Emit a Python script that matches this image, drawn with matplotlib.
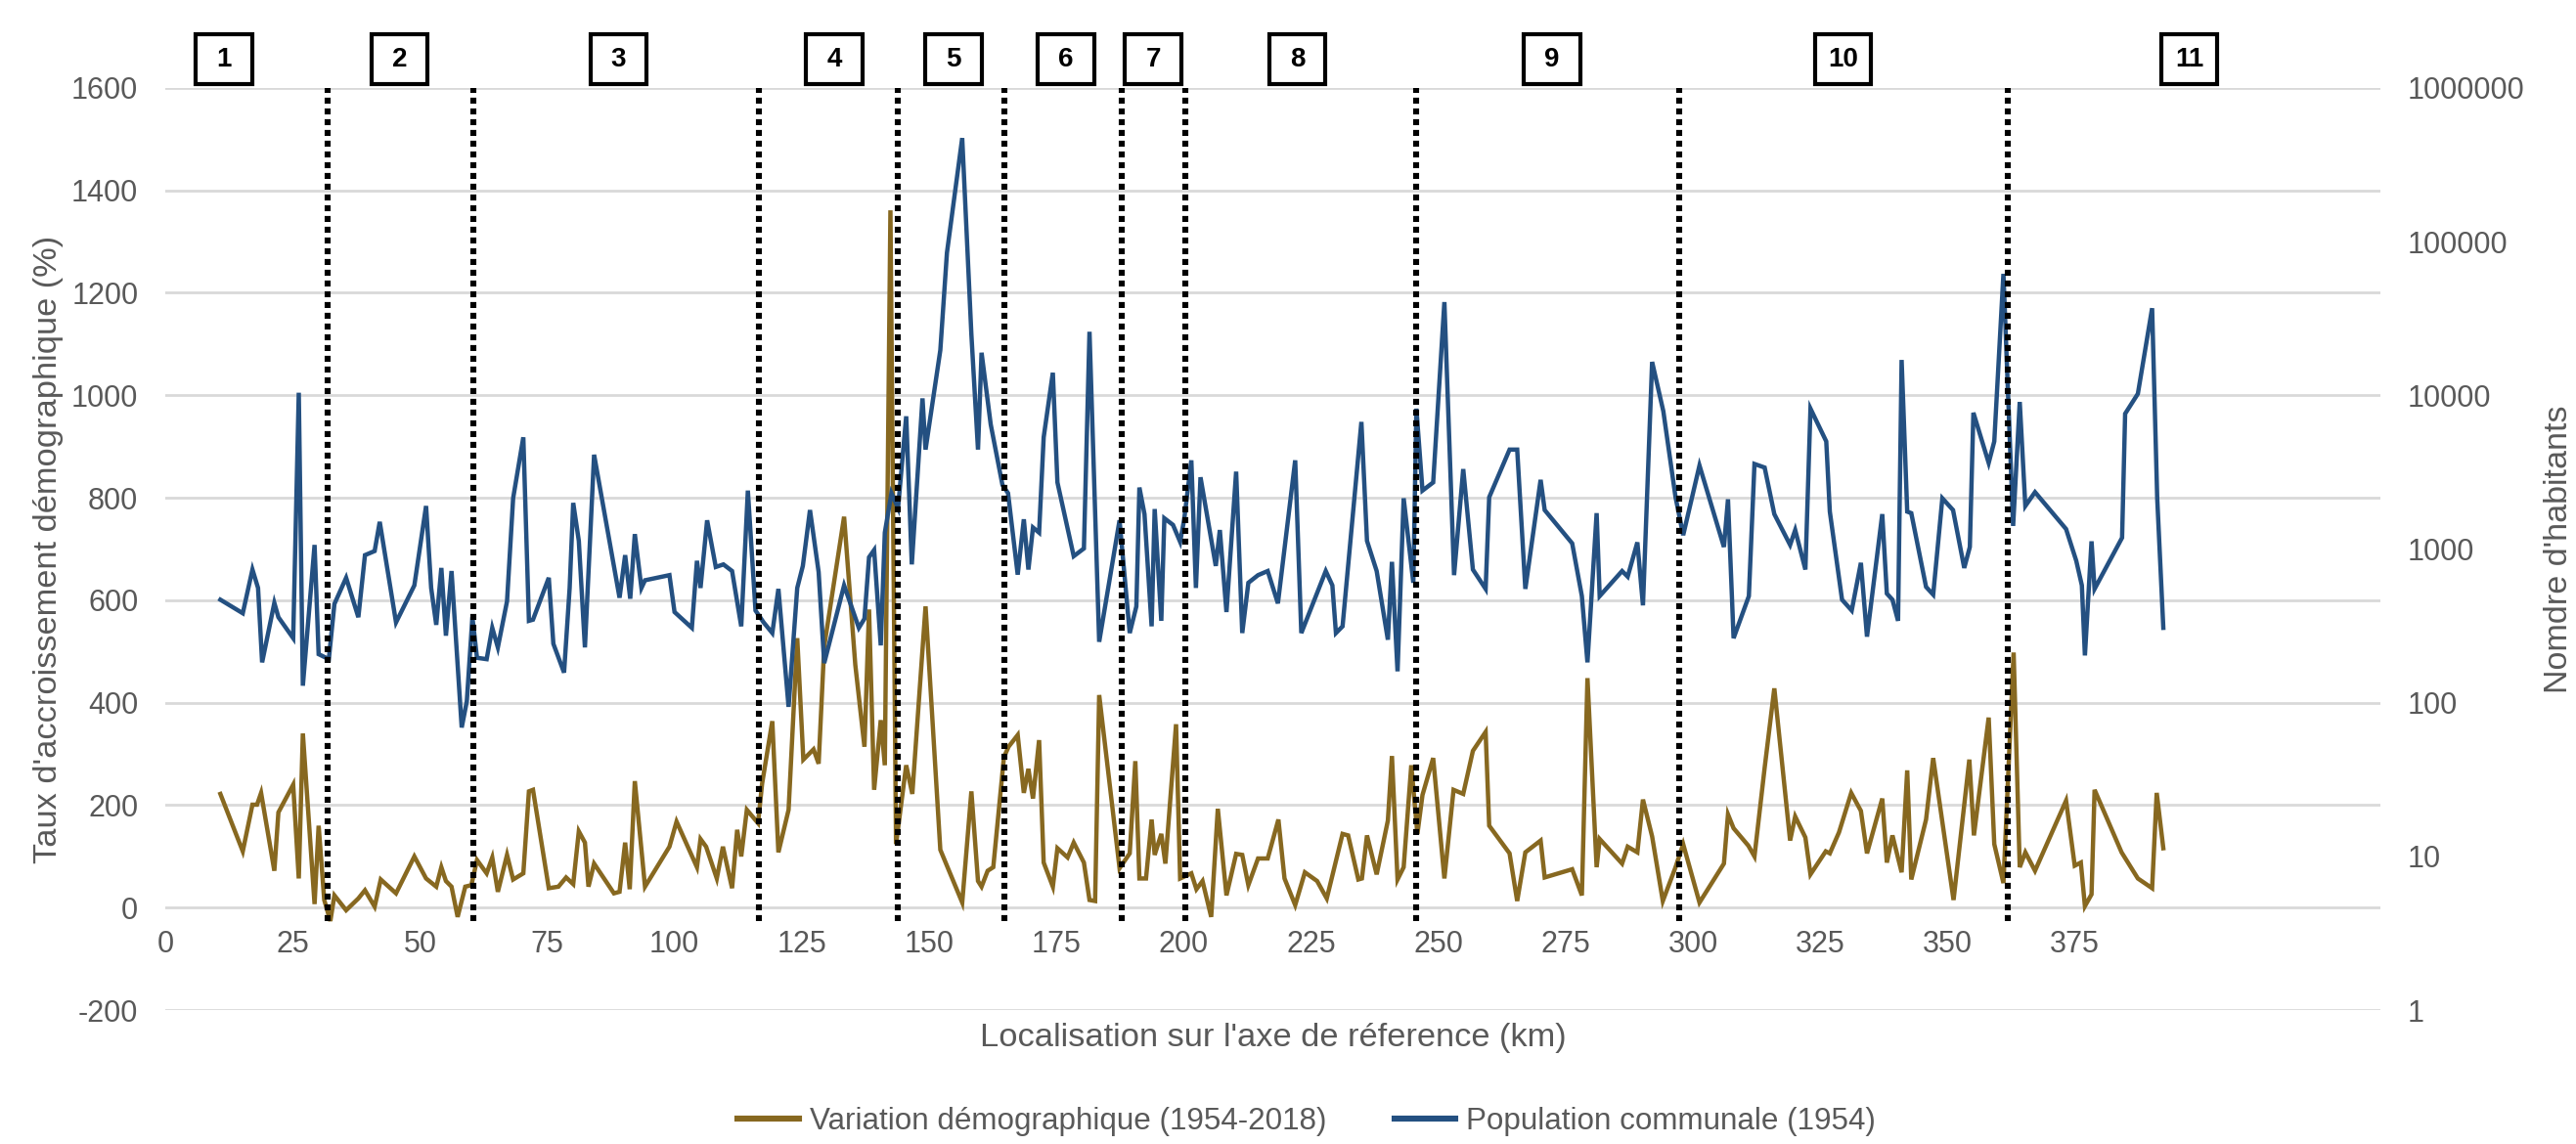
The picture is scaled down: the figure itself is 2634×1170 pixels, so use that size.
"""Variation démographique et population communale le long de l'axe de référence."""

import matplotlib
matplotlib.use("Agg")
import matplotlib.pyplot as plt
from matplotlib.lines import Line2D
from matplotlib.patches import Rectangle
from matplotlib.ticker import NullLocator

plt.rcParams["font.family"] = ["Liberation Sans", "DejaVu Sans"]
plt.rcParams["axes.unicode_minus"] = False

# --- variation démographique 1954-2018 (%), axe de gauche
var_km = [
    10.8, 15.2, 17.1, 18.0, 18.8, 21.4, 22.2, 25.1, 26.2, 27.0, 29.3, 30.1, 31.2, 32.4, 33.2,
    35.5, 37.9, 39.2, 41.1, 42.3, 45.3, 48.9, 51.2, 53.2, 54.2, 55.1, 56.2, 57.4, 58.9, 60.1,
    61.2, 63.1, 64.2, 65.3, 67.1, 68.3, 70.3, 71.4, 72.2, 75.3, 77.2, 78.7, 80.1, 81.2, 82.4,
    83.1, 84.2, 88.1, 89.2, 90.3, 91.2, 92.2, 94.2, 99.0, 100.4, 104.4, 105.1, 106.2, 108.3,
    109.5, 111.3, 112.3, 113.1, 114.2, 116.4, 117.2, 119.2, 120.4, 122.4, 124.1, 125.3, 127.3,
    128.3, 129.4, 133.3, 135.5, 137.3, 138.2, 139.2, 140.5, 141.3, 142.4, 143.5, 145.5, 146.7,
    149.3, 152.2, 156.5, 158.3, 159.6, 160.3, 161.5, 162.6, 164.7, 165.6, 167.4, 168.6, 169.5,
    170.4, 171.6, 172.5, 174.3, 175.2, 177.2, 178.4, 180.4, 181.5, 182.6, 183.4, 187.4, 189.4,
    190.5, 191.3, 192.6, 193.7, 194.3, 195.6, 196.4, 198.5, 199.3, 201.5, 202.5, 203.7, 205.4,
    206.7, 208.4, 210.3, 211.5, 212.7, 214.6, 216.5, 218.6, 219.8, 221.9, 223.8, 226.2, 228.1,
    231.2, 232.3, 234.3, 235.0, 236.0, 237.9, 240.1, 240.9, 242.0, 243.2, 244.7, 245.9, 246.9,
    249.0, 251.2, 253.0, 254.9, 256.8, 259.3, 260.0, 264.0, 265.5, 267.1, 270.1, 270.9, 276.3,
    278.2, 279.3, 281.1, 281.7, 286.1, 287.2, 289.1, 290.2, 292.0, 294.1, 296.6, 298.1, 301.3,
    306.1, 306.9, 308.0, 310.9, 312.1, 314.1, 316.0, 319.1, 320.1, 322.1, 323.1, 326.1, 326.9,
    328.7, 331.1, 333.0, 334.2, 337.2, 338.1, 339.2, 341.0, 342.1, 342.9, 345.8, 347.2, 351.2,
    354.3, 355.2, 358.1, 359.2, 361.0, 363.0, 364.2, 365.3, 367.2, 373.3, 375.0, 376.2, 377.0,
    378.3, 378.9, 384.2, 387.4, 390.2, 391.1, 392.4,
]
var_pct = [
    222, 110, 201, 201, 224, 72, 186, 240, 57, 340, 7, 160, 15, -26, 24,
    -5, 18, 34, 2, 55, 28, 100, 57, 41, 79, 52, 41, -18, 41, 44,
    93, 67, 98, 31, 103, 55, 67, 227, 230, 38, 41, 59, 46, 149, 127,
    41, 86, 28, 31, 127, 36, 247, 41, 119, 168, 79, 134, 119, 57,
    119, 38, 152, 100, 191, 165, 242, 364, 108, 191, 526, 289, 309,
    281, 510, 763, 474, 314, 582, 230, 366, 278, 1361, 124, 278, 222,
    588, 113, 10, 227, 52, 41, 72, 79, 294, 314, 337, 224, 271,
    213, 327, 88, 41, 116, 98, 127, 88, 15, 13, 415, 77, 106,
    286, 57, 57, 172, 103, 144, 86, 358, 57, 67, 36, 52, -18,
    193, 24, 105, 103, 44, 96, 96, 172, 57, 5, 69, 52, 18,
    144, 141, 55, 57, 141, 65, 170, 296, 55, 79, 278, 144, 220,
    292, 57, 230, 222, 306, 343, 160, 106, 13, 108, 131, 59, 75,
    24, 448, 79, 134, 86, 119, 108, 211, 139, 13, 79, 124, 10,
    86, 182, 155, 121, 100, 273, 428, 131, 178, 137, 65, 110, 106,
    147, 224, 189, 106, 213, 88, 141, 69, 268, 55, 172, 292, 15,
    289, 141, 371, 124, 48, 498, 79, 108, 72, 209, 82, 88, 3,
    26, 230, 108, 57, 38, 224, 116,
]

# --- population communale 1954 (habitants), axe de droite (log)
pop_km = [
    10.8, 15.2, 17.1, 18.2, 19.0, 21.4, 22.2, 25.1, 26.2, 27.0, 29.3, 30.1, 32.1, 33.2, 35.5,
    37.9, 39.2, 41.1, 42.1, 45.3, 48.9, 51.2, 52.2, 53.2, 54.2, 55.1, 56.2, 58.2, 59.2, 60.3,
    61.2, 63.1, 64.2, 65.3, 67.1, 68.3, 70.3, 71.4, 72.2, 75.3, 76.2, 78.3, 79.4, 80.1, 81.2,
    82.4, 84.2, 89.2, 90.3, 91.3, 92.2, 93.5, 94.2, 99.0, 100.0, 103.4, 104.4, 105.1, 106.4,
    108.1, 109.6, 111.3, 113.1, 114.4, 115.9, 117.5, 119.2, 120.4, 122.4, 124.1, 125.2, 126.6,
    128.3, 129.4, 133.3, 136.2, 137.3, 138.2, 139.2, 140.5, 141.3, 142.6, 143.9, 145.5, 146.6,
    148.7, 149.3, 152.2, 153.5, 156.5, 158.3, 159.6, 160.3, 162.1, 164.4, 165.5, 167.4, 168.6,
    169.5, 170.4, 171.6, 172.5, 174.3, 175.2, 178.4, 180.4, 181.5, 183.4, 187.4, 189.4, 190.7,
    191.3, 192.3, 193.7, 194.3, 195.6, 196.2, 197.9, 199.3, 200.1, 201.5, 202.4, 203.3, 206.3,
    207.1, 208.4, 210.3, 211.5, 212.7, 214.6, 216.5, 218.5, 221.9, 223.1, 227.9, 229.2, 229.9,
    231.2, 234.9, 236.0, 237.9, 240.1, 240.9, 242.0, 243.2, 245.1, 245.7, 246.9, 249.0, 251.2,
    253.1, 254.9, 256.8, 259.3, 260.0, 264.0, 265.5, 267.1, 270.1, 270.9, 276.3, 278.2, 279.3,
    281.1, 281.7, 286.1, 287.2, 289.1, 290.2, 292.0, 294.2, 296.6, 298.1, 301.3, 306.1, 306.9,
    308.0, 311.0, 312.1, 314.1, 316.0, 319.1, 320.1, 322.1, 323.1, 326.2, 326.9, 329.3, 331.2,
    333.0, 334.2, 337.2, 338.1, 339.2, 340.3, 341.0, 342.1, 342.9, 345.8, 347.2, 349.0, 351.1,
    353.3, 354.4, 355.1, 358.1, 359.2, 361.0, 362.9, 364.2, 365.3, 367.2, 373.3, 375.3, 376.4,
    377.0, 378.3, 378.9, 384.3, 384.9, 387.4, 390.2, 391.2, 392.4,
]
pop_hab = [
    468, 382, 735, 558, 183, 446, 360, 263, 10390, 129, 1063, 207, 192, 439, 650,
    360, 912, 970, 1502, 333, 580, 1905, 558, 321, 753, 273, 719, 69, 102, 360,
    196, 192, 307, 229, 457, 2138, 5330, 341, 347, 650, 242, 157, 558, 1995, 1130,
    229, 4105, 482, 912, 475, 1250, 558, 626, 676, 389, 307, 838, 558, 1537,
    764, 794, 719, 314, 2399, 398, 333, 284, 550, 94, 558, 776, 1792,
    708, 181, 580, 307, 352, 884, 985, 236, 1278, 2308, 1848, 7300, 794,
    9550, 4433, 19650, 84500, 471500, 24930, 4433, 18920, 6460, 2610, 2308, 681, 1561,
    735, 1380, 1278, 5330, 14020, 2712, 898, 1008, 25900, 249, 1537, 284, 423,
    2512, 1686, 314, 1820, 341, 1585, 1435, 1113, 1561, 3775, 558, 2929, 776,
    1329, 389, 3187, 284, 603, 676, 719, 443, 3775, 284, 719, 580, 284,
    314, 6710, 1130, 719, 257, 825, 160, 2138, 603, 8190, 2399, 2712, 40400,
    676, 3311, 735, 550, 2171, 4433, 4433, 550, 2818, 1792, 1088, 494, 183,
    1711, 494, 719, 661, 1105, 430, 16480, 7880, 2171, 1230, 3494, 1031, 2106,
    263, 494, 3575, 3388, 1686, 1063, 1329, 735, 8190, 5012, 1751, 468, 398,
    813, 269, 1686, 513, 468, 341, 16980, 1751, 1711, 567, 505, 2138, 1792,
    753, 1031, 7700, 3631, 5012, 61660, 1413, 9050, 1905, 2344, 1349, 838, 580,
    203, 1122, 550, 1184, 7586, 10230, 36850, 2138, 307,
]

# limites des secteurs et numéros
bounds_km = [31.9, 60.5, 116.6, 143.8, 164.8, 187.9, 200.4, 245.6, 297.3, 361.9]
zone_labels = ["1", "2", "3", "4", "5", "6", "7", "8", "9", "10", "11"]
zone_centers = [11.5, 46.0, 89.0, 131.4, 154.8, 176.9, 194.0, 222.3, 272.3, 329.5, 397.5]

BROWN = "#876820"
BLUE = "#245081"
GREY = "#595959"
GRID = "#d9d9d9"

fig = plt.figure(figsize=(13.17, 5.85), dpi=200)
fig.patch.set_facecolor("white")
ax = fig.add_axes([0.0642, 0.117, 0.924 - 0.0642, 0.9232 - 0.117])
ax2 = ax.twinx()

ax.plot(var_km, var_pct, color=BROWN, lw=1.6, solid_joinstyle="miter", zorder=2)
ax2.plot(pop_km, pop_hab, color=BLUE, lw=1.6, solid_joinstyle="miter", zorder=2)

ax.set_xlim(0, 435)
ax.set_ylim(-200, 1600)
ax.set_xticks(range(0, 376, 25))
ax.set_yticks(range(-200, 1601, 200))
ax.grid(axis="y", color=GRID, lw=1.0)
ax.set_axisbelow(True)
ax.spines["bottom"].set_position(("data", 0))
for sp in ax.spines.values():
    sp.set_visible(False)
for sp in ax2.spines.values():
    sp.set_visible(False)
ax.tick_params(axis="both", length=0, labelsize=11, colors=GREY)
ax.tick_params(axis="x", pad=8)
ax.tick_params(axis="y", pad=10)

ax2.set_yscale("log")
ax2.set_ylim(1, 1e6)
ax2.set_yticks([1, 10, 100, 1000, 10000, 100000, 1000000])
ax2.set_yticklabels(["1", "10", "100", "1000", "10000", "100000", "1000000"])
ax2.yaxis.set_minor_locator(NullLocator())
ax2.tick_params(axis="y", length=0, labelsize=11, colors=GREY, pad=10)

ax.set_ylabel("Taux d'accroissement démographique (%)", fontsize=12.4, color=GREY, labelpad=3)
ax2.set_ylabel("Nomdre d'habitants", fontsize=12.3, color=GREY, labelpad=7)
ax.set_xlabel("Localisation sur l'axe de réference (km)", fontsize=12.4, color=GREY)
ax.xaxis.label.set_va("center")
ax.xaxis.set_label_coords(0.5, -0.030)

# limites des secteurs
for b in bounds_km:
    ax2.axvline(b, ymin=(-27 + 200) / 1800, ymax=1.0, color="black", lw=2.2,
                linestyle=(0, (1, 0.8)), dash_capstyle="butt", zorder=3)

# numéros des secteurs
for lab, c in zip(zone_labels, zone_centers):
    ax.add_patch(Rectangle((c - 5.55, 1608), 11.1, 96, fill=True, fc="white", ec="black",
                           lw=1.5, clip_on=False, zorder=5))
    ax.text(c, 1656, lab, ha="center", va="center", fontsize=10, fontweight="bold",
            color="black", clip_on=False, zorder=6)

handles = [
    Line2D([], [], color=BROWN, lw=2.2),
    Line2D([], [], color=BLUE, lw=2.2),
]
leg = fig.legend(handles, ["Variation démographique (1954-2018)", "Population communale (1954)"],
                 loc="center", bbox_to_anchor=(0.5073, 0.02), ncol=2, frameon=False, fontsize=11.3,
                 handlelength=2.0, handletextpad=0.35, columnspacing=2.2)
for t in leg.get_texts():
    t.set_color(GREY)

fig.savefig("out.png", dpi=200)
